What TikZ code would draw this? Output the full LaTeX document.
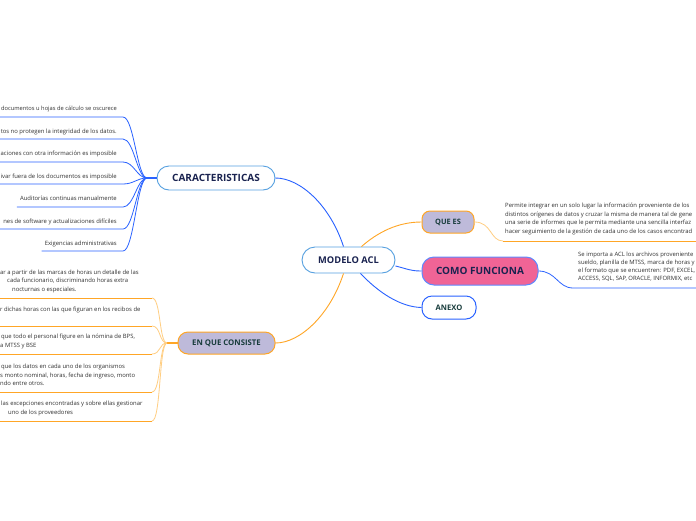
\documentclass[tikz,border=0pt]{standalone}
\usepackage{fontspec}
\setmainfont{Open Sans}
\usetikzlibrary{calc}
\definecolor{lblue}{RGB}{86,160,224}
\definecolor{blu}{RGB}{41,98,255}
\definecolor{orng}{RGB}{255,166,38}
\definecolor{lorng}{RGB}{255,206,130}
\definecolor{lav}{RGB}{190,186,218}
\definecolor{pinkf}{RGB}{240,100,150}
\definecolor{navy}{RGB}{26,35,80}
\definecolor{tealdk}{RGB}{24,60,60}
\definecolor{leafgray}{RGB}{50,50,50}
\begin{document}
\begin{tikzpicture}[x=1pt,y=-1pt,
  hub/.style={draw=lblue,line width=0.9pt,fill=white,rounded corners=12pt,text=navy,font=\bfseries\fontsize{9.6}{11}\selectfont,inner sep=0pt},
  lavbox/.style={draw=orng,line width=1pt,fill=lav,rounded corners=10pt,text=tealdk,font=\bfseries\fontsize{7.4}{8}\selectfont,inner sep=0pt},
  leaf/.style={text=leafgray,font=\fontsize{5.9}{8.5}\selectfont,inner sep=0pt},
  bluec/.style={draw=blu,line width=0.8pt},
  orc/.style={draw=orng,line width=0.9pt},
  orlight/.style={draw=lorng,line width=0.8pt}]
\useasboundingbox (0,0) rectangle (696,520);
\fill[white] (0,0) rectangle (696,520);

% main nodes
\node[hub,minimum width=93pt,minimum height=26pt,rounded corners=13pt,font=\bfseries\fontsize{9.3}{11}\selectfont] (m) at (348.5,260) {MODELO ACL};
\node[hub,minimum width=118pt,minimum height=24pt,font=\bfseries\fontsize{10}{11}\selectfont] (car) at (216,178) {CARACTERISTICAS};
\node[lavbox,minimum width=97pt,minimum height=22pt,font=\bfseries\fontsize{7.8}{8}\selectfont] (enq) at (226.5,343) {EN QUE CONSISTE};
\node[lavbox,minimum width=52pt,minimum height=22pt,rounded corners=8pt] (quees) at (448,222) {QUE ES};
\node[draw=blu!75,line width=1pt,fill=pinkf,rounded corners=12pt,text=navy,font=\bfseries\fontsize{10}{12}\selectfont,inner sep=0pt,minimum width=116pt,minimum height=28pt] (como) at (480,271) {COMO FUNCIONA};
\node[draw=blu,line width=1pt,fill=white,rounded corners=10pt,text=tealdk,font=\bfseries\fontsize{7.6}{8}\selectfont,inner sep=0pt,minimum width=54pt,minimum height=23pt] (anexo) at (449,307.5) {ANEXO};

% main connectors
\draw[bluec,line width=0.9pt] ([xshift=-5pt]m.north) .. controls (330,205) and (300,178) .. (car.east);
\draw[orc] ([xshift=-5pt]m.south) .. controls (330,315) and (300,343) .. (enq.east);
\draw[orc] ([xshift=13pt]m.north) .. controls (378,232) and (398,222) .. (quees.west);
\draw[bluec,line width=0.9pt] ([yshift=-6pt]m.east) .. controls (408,269) and (410,271) .. (como.west);
\draw[bluec,line width=0.9pt] ([xshift=12pt]m.south) .. controls (378,292) and (400,307) .. (anexo.west);

% CARACTERISTICAS leaves
\node[leaf,anchor=base east,font=\fontsize{5.75}{8.5}\selectfont] (c1) at (117,110.5) {documentos u hojas de cálculo se oscurece};
\node[leaf,anchor=base east] (c2) at (117,133.5) {tos no protegen la integridad de los datos.};
\node[leaf,anchor=base east] (c3) at (117,155.5) {aciones con otra información es imposible};
\node[leaf,anchor=base east] (c4) at (117,178.5) {ivar fuera de los documentos es imposible};
\node[leaf,anchor=base east] (c5) at (117,200.5) {Auditorías continuas manualmente};
\node[leaf,anchor=base east] (c6) at (117,223.5) {nes de software y actualizaciones difíciles};
\node[leaf,anchor=base east] (c7) at (117,245.5) {Exigencias administrativas};
\coordinate (jc) at (147,178);
\coordinate (c1e) at (123,117);
\coordinate (c2e) at (123,139);
\coordinate (c3e) at (123,162);
\coordinate (c4e) at (123,184);
\coordinate (c5e) at (123,207);
\coordinate (c6e) at (123,229);
\coordinate (c7e) at (123,251);
\draw[bluec,line width=1.8pt] (car.west) -- (jc);
\draw[bluec] (jc) .. controls (137,178) and (134,117) .. (c1e) -- (c1e -| 0,0);
\draw[bluec] (jc) .. controls (137,178) and (134,139) .. (c2e) -- (c2e -| 0,0);
\draw[bluec] (jc) .. controls (137,178) and (134,162) .. (c3e) -- (c3e -| 0,0);
\draw[bluec] (jc) .. controls (137,178) and (134,184) .. (c4e) -- (c4e -| 0,0);
\draw[bluec] (jc) .. controls (137,178) and (134,207) .. (c5e) -- ($(c5e -| c5.west)+(-3,0)$);
\draw[bluec] (jc) .. controls (137,178) and (134,229) .. (c6e) -- (c6e -| 0,0);
\draw[bluec] (jc) .. controls (137,178) and (134,251) .. (c7e) -- ($(c7e -| c7.west)+(-3,0)$);

% EN QUE CONSISTE leaves
\node[leaf,anchor=base west] (e1a) at (0,274) {ar a partir de las marcas de horas un detalle de las};
\node[leaf,anchor=base west] (e1b) at (7,282.5) {cada funcionario, discriminando horas extra};
\node[leaf,anchor=base west] (e1c) at (12,291) {nocturnas o especiales.};
\node[leaf,anchor=base west] (e2a) at (0,311.5) {r dichas horas con las que figuran en los recibos de};
\node[leaf,anchor=base west] (e3a) at (1,338.5) {que todo el personal figure en la nómina de BPS,};
\node[leaf,anchor=base west] (e3b) at (0,347) {a MTSS y BSE};
\node[leaf,anchor=base west] (e4a) at (1,368.5) {que los datos en cada uno de los organismos};
\node[leaf,anchor=base west] (e4b) at (0,377) {s monto nominal, horas, fecha de ingreso, monto};
\node[leaf,anchor=base west] (e4c) at (0,385.5) {ndo entre otros.};
\node[leaf,anchor=base west] (e5a) at (1,405.5) {las excepciones encontradas y sobre ellas gestionar};
\node[leaf,anchor=base west] (e5b) at (8,414.5) {uno de los proveedores};
\coordinate (je) at (167,343);
\coordinate (e1e) at (152,298);
\coordinate (e2e) at (152,326);
\coordinate (e3e) at (152,354);
\coordinate (e4e) at (152,392);
\coordinate (e5e) at (152,421);
\draw[orng,line width=1.8pt] (enq.west) -- (je);
\draw[orlight] (je) .. controls (159,343) and (161,298) .. (e1e);
\draw[orlight] (je) .. controls (159,343) and (161,326) .. (e2e);
\draw[orlight] (je) .. controls (159,343) and (161,354) .. (e3e);
\draw[orlight] (je) .. controls (159,343) and (161,392) .. (e4e);
\draw[orlight] (je) .. controls (159,343) and (161,421) .. (e5e);
\draw[orc] (e1e) -- (e1e -| 0,0);
\draw[orc] (e2e) -- (e2e -| 0,0);
\draw[orc] (e3e) -- (e3e -| 0,0);
\draw[orc] (e4e) -- (e4e -| 0,0);
\draw[orc] (e5e) -- (e5e -| 0,0);

% QUE ES leaf
\node[leaf,anchor=base west] (q1) at (505,207.5) {Permite integrar en un solo lugar la información proveniente de los};
\node[leaf,anchor=base west] (q2) at (505,216) {distintos orígenes de datos y cruzar la misma de manera tal de gene};
\node[leaf,anchor=base west] (q3) at (505,224.5) {una serie de informes que le permita mediante una sencilla interfaz};
\node[leaf,anchor=base west] (q4) at (505,233) {hacer seguimiento de la gestión de cada uno de los casos encontrad};
\coordinate (qs) at (503,241);
\coordinate (qend) at (696,241);
\draw[orlight] (quees.east) .. controls (492,222) and (490,241) .. (qs);
\draw[orc] (qs) -- (qend);

% COMO FUNCIONA leaf
\node[leaf,anchor=base west] (f1) at (578,256.5) {Se importa a ACL los archivos proveniente};
\node[leaf,anchor=base west] (f2) at (578,264.5) {sueldo, planilla de MTSS, marca de horas y};
\node[leaf,anchor=base west] (f3) at (578,272.5) {el formato que se encuentren: PDF, EXCEL,};
\node[leaf,anchor=base west] (f4) at (578,280.5) {ACCESS, SQL, SAP, ORACLE, INFORMIX, etc};
\coordinate (fs) at (573,288);
\coordinate (fend) at (696,288);
\draw[bluec] (como.east) .. controls (556,271) and (558,288) .. (fs) -- (fend);
\end{tikzpicture}
\end{document}
